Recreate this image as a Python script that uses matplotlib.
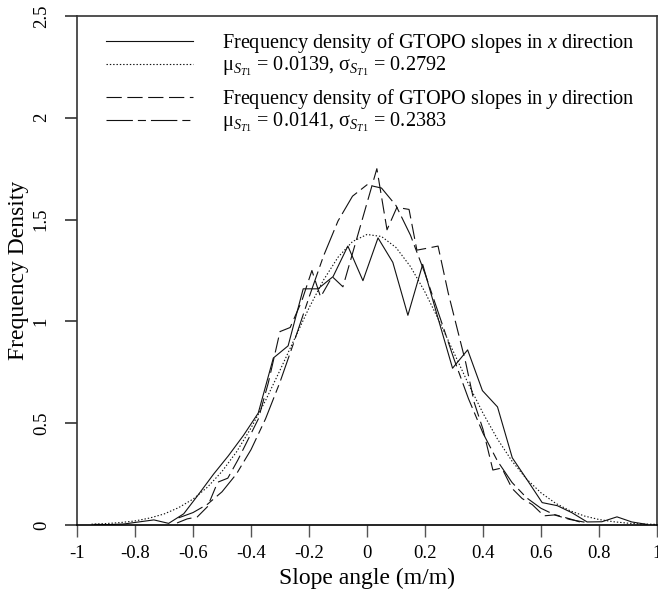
import matplotlib
matplotlib.use("Agg")
import matplotlib.pyplot as plt

plt.rcParams["font.family"] = ["Liberation Serif", "DejaVu Serif"]
plt.rcParams["mathtext.fontset"] = "custom"
plt.rcParams["mathtext.rm"] = "Liberation Serif"
plt.rcParams["mathtext.it"] = "Liberation Serif:italic"
plt.rcParams["axes.unicode_minus"] = False
plt.rcParams["lines.scale_dashes"] = False

# frequency density of slopes in x direction (histogram polyline)
hx_x = [-0.941, -0.890, -0.838, -0.787, -0.735, -0.684, -0.632, -0.581, -0.529, -0.478,
        -0.426, -0.375, -0.323, -0.272, -0.220, -0.169, -0.117, -0.066, -0.014, 0.038,
        0.089, 0.141, 0.192, 0.244, 0.295, 0.347, 0.398, 0.450, 0.501, 0.553,
        0.604, 0.656, 0.707, 0.759, 0.810, 0.862, 0.913, 0.965]
hx_y = [0.003, 0.002, 0.005, 0.015, 0.025, 0.008, 0.055, 0.15, 0.25, 0.34,
        0.44, 0.55, 0.82, 0.88, 1.16, 1.16, 1.22, 1.37, 1.20, 1.41,
        1.29, 1.03, 1.28, 1.02, 0.77, 0.86, 0.66, 0.58, 0.33, 0.22,
        0.11, 0.095, 0.06, 0.015, 0.016, 0.04, 0.015, 0.003]

# normal fit, x direction (mu 0.0139, sigma 0.2792)
fx_x = [-0.95, -0.90, -0.85, -0.80, -0.75, -0.70, -0.65, -0.60, -0.55, -0.50,
        -0.45, -0.40, -0.35, -0.30, -0.25, -0.20, -0.15, -0.10, -0.05, 0.00,
        0.05, 0.10, 0.15, 0.20, 0.25, 0.30, 0.35, 0.40, 0.45, 0.50,
        0.55, 0.60, 0.65, 0.70, 0.75, 0.80, 0.85, 0.90, 0.95, 1.00]
fx_y = [0.004, 0.007, 0.012, 0.020, 0.034, 0.054, 0.085, 0.127, 0.186, 0.263,
        0.359, 0.476, 0.611, 0.760, 0.914, 1.066, 1.203, 1.315, 1.392, 1.427,
        1.417, 1.363, 1.269, 1.144, 0.999, 0.845, 0.692, 0.549, 0.422, 0.314,
        0.226, 0.158, 0.107, 0.070, 0.044, 0.027, 0.016, 0.009, 0.005, 0.003]

# frequency density of slopes in y direction
hy_x = [-0.655, -0.62, -0.585, -0.55, -0.515, -0.48, -0.445, -0.41, -0.375, -0.34,
        -0.30, -0.265, -0.225, -0.19, -0.16, -0.12, -0.083, 0.034, 0.069, 0.103,
        0.145, 0.172, 0.21, 0.245, 0.28, 0.31, 0.34, 0.37, 0.40, 0.434,
        0.465, 0.50, 0.535, 0.57, 0.61, 0.65, 0.70, 0.745]
hy_y = [0.01, 0.03, 0.04, 0.09, 0.21, 0.23, 0.32, 0.42, 0.52, 0.70,
        0.95, 0.97, 1.10, 1.25, 1.12, 1.22, 1.17, 1.75, 1.45, 1.56,
        1.55, 1.35, 1.36, 1.37, 1.14, 0.97, 0.80, 0.60, 0.47, 0.27,
        0.28, 0.18, 0.13, 0.10, 0.045, 0.05, 0.03, 0.01]

# normal fit, y direction (mu 0.0141, sigma 0.2383)
fy_x = [-0.65, -0.60, -0.55, -0.50, -0.45, -0.40, -0.35, -0.30, -0.25, -0.20,
        -0.15, -0.10, -0.05, 0.00, 0.05, 0.10, 0.15, 0.20, 0.25, 0.30,
        0.35, 0.40, 0.45, 0.50, 0.55, 0.60, 0.65, 0.70, 0.75]
fy_y = [0.035, 0.061, 0.102, 0.163, 0.251, 0.370, 0.521, 0.702, 0.906, 1.118,
        1.321, 1.493, 1.615, 1.671, 1.655, 1.569, 1.423, 1.235, 1.026, 0.815,
        0.620, 0.451, 0.314, 0.209, 0.134, 0.082, 0.048, 0.027, 0.014]

labels = [
    r"Frequency density of GTOPO slopes in $x$ direction",
    r"$\mathrm{\mu}_{S_{T1}}$ = 0.0139, $\mathrm{\sigma}_{S_{T1}}$ = 0.2792",
    r"Frequency density of GTOPO slopes in $y$ direction",
    r"$\mathrm{\mu}_{S_{T1}}$ = 0.0141, $\mathrm{\sigma}_{S_{T1}}$ = 0.2383",
]
xticks = [-1, -0.8, -0.6, -0.4, -0.2, 0, 0.2, 0.4, 0.6, 0.8, 1]
yticks = [0, 0.5, 1, 1.5, 2, 2.5]

W, H = 658, 597
fig = plt.figure(figsize=(W / 100, H / 100), dpi=100)
ax = fig.add_axes([77 / W, (H - 525) / H, 580 / W, 509 / H])

INK = "#111111"
l1, = ax.plot(hx_x, hx_y, color=INK, lw=0.8)
l2, = ax.plot(fx_x, fx_y, color=INK, lw=0.8, dashes=(1.0, 1.4))
l3, = ax.plot(hy_x, hy_y, color=INK, lw=0.8, dashes=(11.0, 4.0))
l4, = ax.plot(fy_x, fy_y, color=INK, lw=0.8, dashes=(19.0, 3.6, 5.8, 3.6))

ax.set_xlim(-1, 1)
ax.set_ylim(0, 2.5)
ax.set_xticks(xticks)
ax.set_xticklabels([f"{t:g}" for t in xticks])
ax.set_yticks(yticks)
ax.set_yticklabels([f"{t:g}" for t in yticks], rotation=90, va="center")
ax.tick_params(axis="x", length=8.6, width=1.0, color="#555555", pad=6, labelsize=13.5)
ax.tick_params(axis="y", length=8.6, width=1.2, color="#333333", pad=11, labelsize=13.5)
for s in ax.spines.values():
    s.set_color("#333333")
    s.set_linewidth(1.2)
ax.spines["bottom"].set_color("black")

ax.set_xlabel("Slope angle (m/m)", fontsize=17, labelpad=4)
ax.set_ylabel("Frequency Density", fontsize=17, labelpad=3)

leg_kw = dict(loc="upper left", frameon=False, fontsize=14.6, handlelength=4.3,
              handletextpad=1.42, labelspacing=0.0, borderaxespad=0, borderpad=0)
leg1 = ax.legend([l1, l2], labels[:2], bbox_to_anchor=(0.05, 0.971), **leg_kw)
ax.add_artist(leg1)
ax.legend([l3, l4], labels[2:], bbox_to_anchor=(0.05, 0.861), **leg_kw)

fig.savefig("out.png", dpi=100)
